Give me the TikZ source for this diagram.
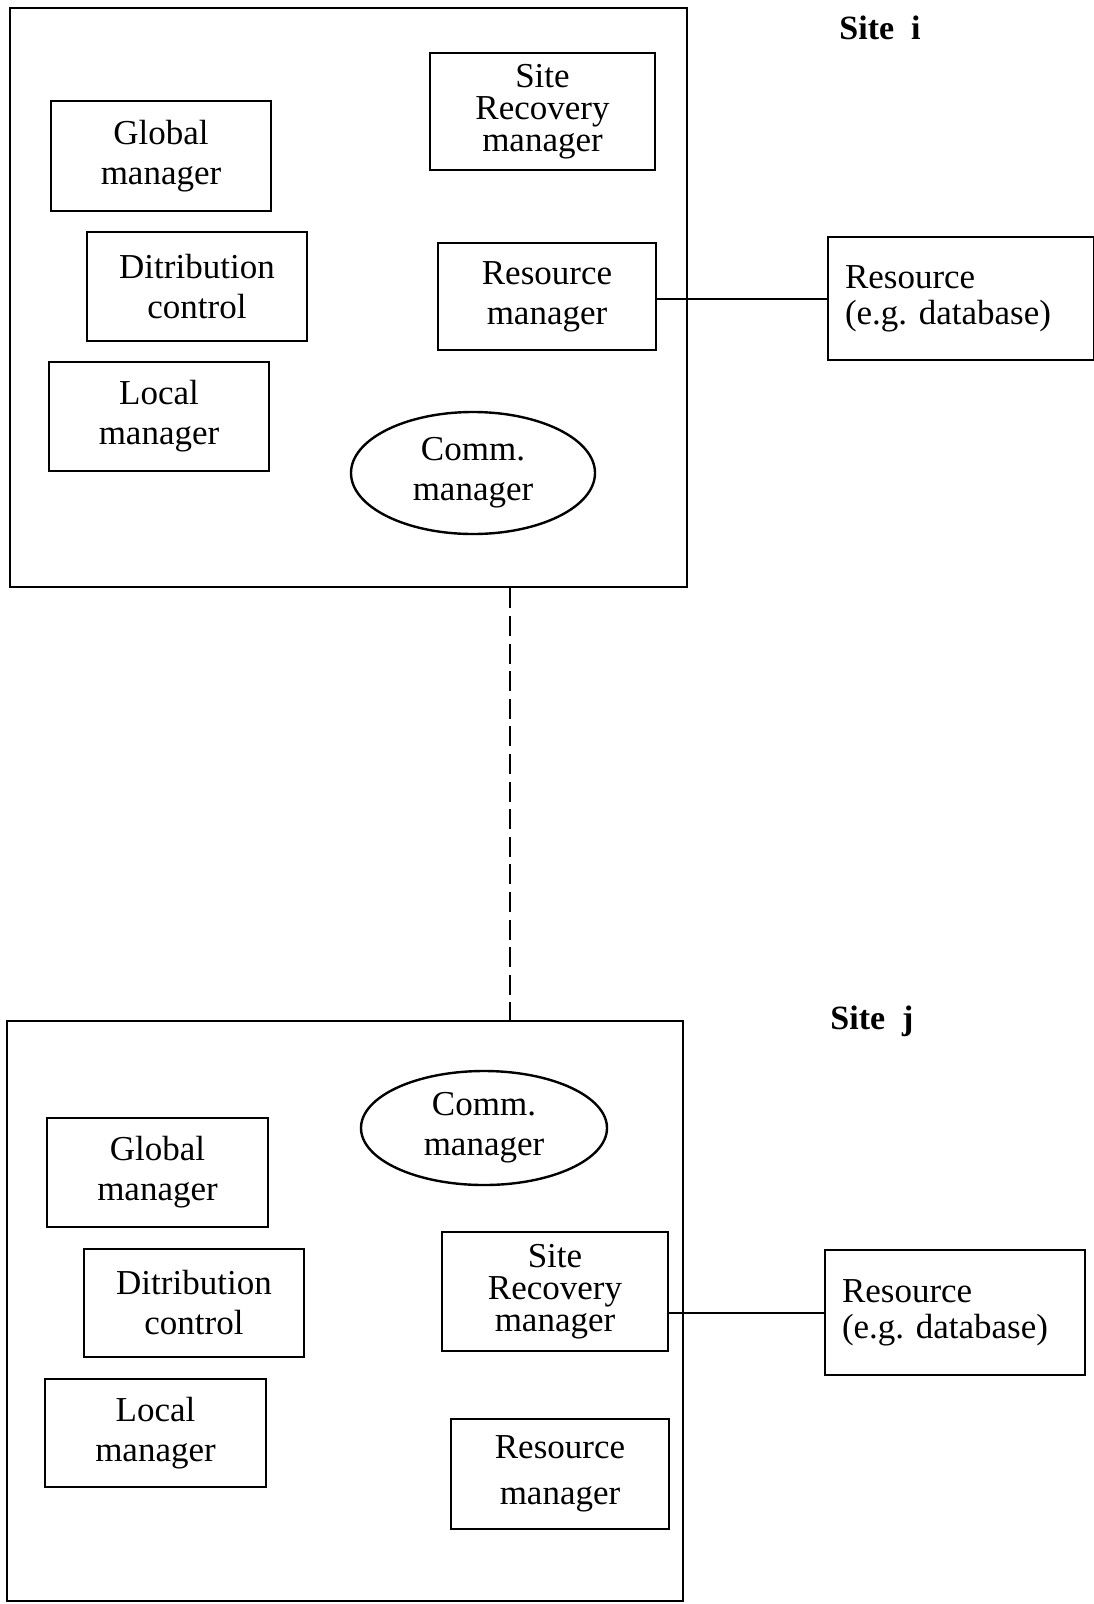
\documentclass[tikz,border=0pt]{standalone}
\usepackage{fontspec}
\setmainfont{Liberation Serif}
\usepackage{tikz}
\usetikzlibrary{shapes.geometric}
\newcommand{\boxfont}{\fontsize{35}{40}\selectfont}
\newcommand{\tightfont}{\fontsize{35}{32}\selectfont}
\newcommand{\resfont}{\fontsize{35}{36}\selectfont\frenchspacing}
\newcommand{\sitefont}{\fontsize{34}{40}\selectfont\bfseries}
\tikzset{
  sitebox/.style={draw, line width=2.6pt, inner sep=0pt},
  mgr/.style={draw, line width=2.4pt, align=center, inner sep=0pt, font=\boxfont},
  comm/.style={draw, ellipse, line width=2.4pt, align=center, inner sep=0pt, font=\boxfont},
  res/.style={draw, line width=2.4pt, align=left, inner xsep=17pt, inner ysep=0pt, text width=232pt, font=\resfont},
  link/.style={line width=2pt}
}

\begin{document}
\begin{tikzpicture}[x=1pt,y=-1pt]
\useasboundingbox (0,0) rectangle (1093,1604);
% site i
\node[sitebox, minimum width=677pt, minimum height=579pt] (sitei) at (348.5,297.5) {};
\node[font=\sitefont] (labi) at (880,28) {Site\ \ i};
\node[mgr, minimum width=220pt, minimum height=110pt] (gmi) at (161,156) {Global\\manager};
\node[mgr, minimum width=220pt, minimum height=109pt] (dci) at (197,286.5) {Ditribution\\control};
\node[mgr, minimum width=220pt, minimum height=109pt] (lmi) at (159,416.5) {Local\\manager};
\node[mgr, minimum width=225pt, minimum height=117pt, font=\tightfont] (srmi) at (542.5,111.5) {Site\\Recovery\\manager};
\node[mgr, minimum width=218pt, minimum height=107pt] (rmi) at (547,296.5) {Resource\\manager};
\node[comm, minimum width=244pt, minimum height=122pt] (cmi) at (473,473) {Comm.\\manager};
\node[res, minimum height=123pt] (resi) at (961,298.5) {Resource\\(e.g. database)};
\draw[link] (rmi.east |- resi.west) -- (resi.west);
% site j
\node[sitebox, minimum width=676pt, minimum height=580pt] (sitej) at (345,1311) {};
\node[font=\sitefont] (labj) at (872,1021) {Site\ \ j};
\node[comm, minimum width=246pt, minimum height=114pt] (cmj) at (484,1128) {Comm.\\manager};
\node[mgr, minimum width=221pt, minimum height=109pt] (gmj) at (157.5,1172.5) {Global\\manager};
\node[mgr, minimum width=220pt, minimum height=108pt] (dcj) at (194,1303) {Ditribution\\control};
\node[mgr, minimum width=221pt, minimum height=108pt] (lmj) at (155.5,1433) {Local\\manager};
\node[mgr, minimum width=226pt, minimum height=119pt, font=\tightfont] (srmj) at (555,1291.5) {Site\\Recovery\\manager};
\node[mgr, minimum width=218pt, minimum height=110pt, font=\fontsize{35}{46}\selectfont] (rmj) at (560,1474) {Resource\\manager};
\node[res, minimum height=125pt, text width=226pt] (resj) at (955,1312.5) {Resource\\(e.g. database)};
\draw[link] (srmj.east |- resj.west) -- (resj.west);
% link between the sites
\coordinate (net) at (510,0);
\draw[link, dash pattern=on 20pt off 7.6pt] (sitei.south -| net) -- (sitej.north -| net);
\end{tikzpicture}
\end{document}
